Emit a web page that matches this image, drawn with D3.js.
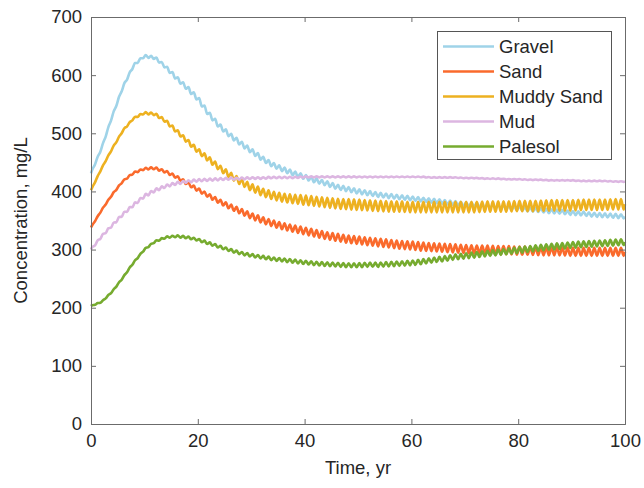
<!DOCTYPE html>
<html><head><meta charset="utf-8">
<script src="https://cdn.jsdelivr.net/npm/d3@7"></script>
<style>
html,body{margin:0;padding:0;background:#fff;}
svg text{font-family:"Liberation Sans",Arial,Helvetica,sans-serif;fill:#262626;}
</style></head>
<body>
<svg id="chart" width="644" height="488"></svg>
<script>
// ---- data ----
const years = d3.range(0, 101, 2); // 0,2,...,100
const seriesNames = ["Gravel", "Sand", "Muddy Sand", "Mud", "Palesol"];
const seriesColors = ["#9fd3e8", "#fa6a2c", "#edb120", "#dcb6e1", "#76ab2f"];

const gravel = [431,475,530,580,617,633,630,614,595,578,560,534,513,497,483,470,457,446,438,431,425,419,414,408,404,400,397,394,392,390,388,386,384,382,380,378,377,375,374,372,371,369,368,366,365,363,362,360,359,358,357];
const sand = [338,368,395,418,432,439,440,434,425,414,403,393,383,374,366,358,351,345,340,336,332,328,324,321,318,316,314,312,310,308,307,305,304,303,302,301,300,300,299,299,298,298,297,297,297,296,296,296,296,296,296];
const muddySand = [402,440,474,505,526,535,533,521,504,487,470,456,441,428,417,407,399,393,389,387,385,383,381,379,378,377,376,375,374,374,373,373,373,373,373,373,373,374,374,374,375,375,375,376,376,376,377,377,377,378,378];
const mud = [300,323,342,361,377,392,402,409,414,417,419,420,421,422,422,423,423,424,424,424,425,425,425,425,425,425,425,425,425,425,425,425,424,424,424,423,423,422,422,421,421,420,420,419,419,419,418,418,418,417,417];
const palesol = [203,210,228,252,278,300,314,321,323,321,317,311,305,299,294,290,287,284,282,280,278,276,275,274,273,273,274,274,275,276,277,279,282,284,287,289,291,293,295,297,299,301,303,305,306,308,309,310,311,312,313];

// seasonal half-range of the annual oscillation (mg/L), at these years
const ampYears = [0,10,20,30,40,50,60,70,80,90,100];
const gravelAmp = [1,2,4,4,4,4,3.5,3.5,3.5,3.5,3.5];
const sandAmp = [0.5,1.5,3,5,6,6.5,7,7,7,7,7];
const muddySandAmp = [0.5,1.5,4,6,8,9,9,9,9,9,9];
const mudAmp = [1.5,2.5,2,1.5,1,0.8,0.6,0.5,0.5,0.5,0.5];
const palesolAmp = [0.5,1,2,2.5,3,3.5,4,4.5,5,5,5];

const xTicks = [0,20,40,60,80,100];
const yTicks = [0,100,200,300,400,500,600,700];
const xLabel = "Time, yr";
const yLabel = "Concentration, mg/L";

const seriesValues = [gravel, sand, muddySand, mud, palesol];
const seriesAmps = [gravelAmp, sandAmp, muddySandAmp, mudAmp, palesolAmp];

// ---- layout ----
const L = 91, R = 625, T = 17, B = 424;
const svg = d3.select("#chart");
const x = d3.scaleLinear().domain([0, 100]).range([L, R]);
const y = d3.scaleLinear().domain([0, 700]).range([B, T]);

// series
seriesNames.forEach((name, i) => {
  const meanScale = d3.scaleLinear().domain(years).range(seriesValues[i]);
  const ampScale = d3.scaleLinear().domain(ampYears).range(seriesAmps[i]);
  const pts = [[0, seriesValues[i][0]]];
  for (let t = 0; t < 100; t += 1) {
    const tp = t + 0.25, tt = t + 0.75;
    pts.push([tp, meanScale(tp) + ampScale(tp)]);
    pts.push([tt, meanScale(tt) - ampScale(tt)]);
  }
  pts.push([100, seriesValues[i][seriesValues[i].length - 1]]);
  const line = d3.line().x(d => x(d[0])).y(d => y(d[1])).curveMonotoneX ? null : null;
  svg.append("path")
    .datum(pts)
    .attr("fill", "none")
    .attr("stroke", seriesColors[i])
    .attr("stroke-width", 2.6)
    .attr("stroke-linejoin", "round")
    .attr("d", d3.line().x(d => x(d[0])).y(d => y(d[1])).curve(d3.curveMonotoneX));
});

// axes box
const axisColor = "#6b6b6b";
const gx = svg.append("g").attr("transform", `translate(0,${B})`)
  .call(d3.axisBottom(x).tickValues(xTicks).tickSize(-5).tickPadding(10).tickFormat(d3.format("d")));
const gy = svg.append("g").attr("transform", `translate(${L},0)`)
  .call(d3.axisLeft(y).tickValues(yTicks).tickSize(-5).tickPadding(9).tickFormat(d3.format("d")));
const gxt = svg.append("g").attr("transform", `translate(0,${T})`)
  .call(d3.axisTop(x).tickValues(xTicks).tickSize(-5).tickFormat(""));
const gyr = svg.append("g").attr("transform", `translate(${R},0)`)
  .call(d3.axisRight(y).tickValues(yTicks).tickSize(-5).tickFormat(""));
[gx, gy, gxt, gyr].forEach(g => {
  g.select(".domain").attr("stroke", axisColor).attr("stroke-width", 1);
  g.selectAll(".tick line").attr("stroke", axisColor);
  g.selectAll(".tick text").attr("font-size", "18.5px").attr("fill", "#262626")
    .style("font-family", '"Liberation Sans",Arial,sans-serif');
});

// axis labels
svg.append("text").attr("x", (L + R) / 2).attr("y", 474).attr("text-anchor", "middle")
  .attr("font-size", "18.5px").text(xLabel);
svg.append("text").attr("transform", `translate(27,${(T + B) / 2}) rotate(-90)`)
  .attr("text-anchor", "middle").attr("font-size", "18.5px").text(yLabel);

// legend
const lg = svg.append("g");
lg.append("rect").attr("x", 437.5).attr("y", 31.5).attr("width", 174).attr("height", 128)
  .attr("fill", "#fff").attr("stroke", "#555").attr("stroke-width", 1);
seriesNames.forEach((name, i) => {
  const cy = 46.5 + i * 25;
  lg.append("line").attr("x1", 443).attr("x2", 494).attr("y1", cy).attr("y2", cy)
    .attr("stroke", seriesColors[i]).attr("stroke-width", 2.6);
  lg.append("text").attr("x", 499).attr("y", cy).attr("dy", "0.35em")
    .attr("font-size", "18.5px").text(name);
});
</script>
</body></html>
